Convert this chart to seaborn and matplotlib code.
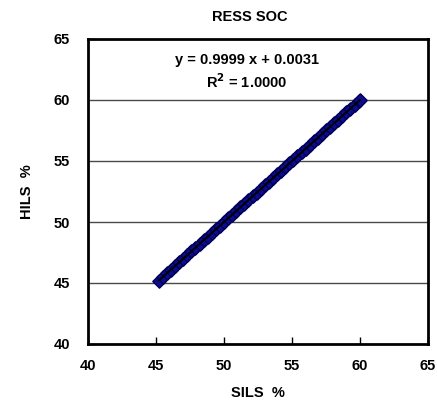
import numpy as np
import pandas as pd
import matplotlib
matplotlib.use("Agg")
import matplotlib.pyplot as plt
import seaborn as sns

sils = [45.2, 45.5, 45.8, 46.1, 46.4, 46.7, 47.0, 47.3, 47.6, 47.9,
        48.2, 48.5, 48.8, 49.1, 49.4, 49.7, 50.0, 50.3, 50.6, 50.9,
        51.2, 51.5, 51.8, 52.1, 52.4, 52.7, 53.0, 53.3, 53.6, 53.9,
        54.2, 54.5, 54.8, 55.1, 55.4, 55.7, 56.0, 56.3, 56.6, 56.9,
        57.2, 57.5, 57.8, 58.1, 58.4, 58.7, 59.0, 59.3, 59.6, 59.9, 60.0]
hils = [45.2, 45.5, 45.8, 46.1, 46.4, 46.7, 47.0, 47.3, 47.6, 47.9,
        48.2, 48.5, 48.8, 49.1, 49.4, 49.7, 50.0, 50.3, 50.6, 50.9,
        51.2, 51.5, 51.8, 52.1, 52.4, 52.7, 53.0, 53.3, 53.6, 53.9,
        54.2, 54.5, 54.8, 55.1, 55.4, 55.7, 56.0, 56.3, 56.6, 56.9,
        57.2, 57.5, 57.8, 58.1, 58.4, 58.7, 59.0, 59.3, 59.6, 59.9, 60.0]
ticks = [40, 45, 50, 55, 60, 65]
title = "RESS SOC"
eq_text = "y = 0.9999 x + 0.0031"
r2_text = "R$^{2}$ = 1.0000"

df = pd.DataFrame({"SILS": sils, "HILS": hils})

sns.set_style("white")
plt.rcParams["font.family"] = ["Liberation Sans", "DejaVu Sans"]
plt.rcParams["font.weight"] = "bold"
plt.rcParams["mathtext.default"] = "bf"
plt.rcParams["text.color"] = "black"
plt.rcParams["axes.labelcolor"] = "black"
plt.rcParams["xtick.color"] = "black"
plt.rcParams["ytick.color"] = "black"

fig = plt.figure(figsize=(4.37, 4.07), dpi=100)
ax = fig.add_axes([88/437, 1 - 344/407, (428-88)/437, (344-39)/407])

for yv in ticks[1:-1]:
    ax.axhline(yv, color="#4a4a4a", lw=1.0, zorder=1)

sns.scatterplot(data=df, x="SILS", y="HILS", ax=ax, marker="D", s=46,
                color="#0c0c90", edgecolor="#000055", linewidth=1.0, zorder=2, legend=False)
coef = np.polyfit(df["SILS"], df["HILS"], 1)
xs = np.array([min(sils), max(sils)])
ax.plot(xs, np.polyval(coef, xs), color="black", lw=1.5, zorder=3)

ax.set_xlim(40, 65)
ax.set_ylim(40, 65)
ax.set_xticks(ticks)
ax.set_yticks(ticks)
ax.set_xticklabels([str(t) for t in ticks], fontsize=10.5, fontweight="bold")
ax.set_yticklabels([str(t) for t in ticks], fontsize=10.5, fontweight="bold")
ax.tick_params(axis="x", direction="in", length=5, width=1, pad=11, bottom=True)
ax.tick_params(axis="y", length=0, pad=13, left=True)
for sp in ax.spines.values():
    sp.set_visible(True)
    sp.set_linewidth(2)
    sp.set_color("black")

ax.set_xlabel("SILS  %", fontsize=10.5, fontweight="bold", labelpad=9)
ax.set_ylabel("HILS  %", fontsize=10.5, fontweight="bold", labelpad=14)
fig.text(250/437, 1 - 17/407, title, ha="center", va="center", fontsize=10.5, fontweight="bold")
fig.text(247/437, 1 - 60/407, eq_text, ha="center", va="center", fontsize=10.5, fontweight="bold")
fig.text(247/437, 1 - 82/407, r2_text, ha="center", va="center", fontsize=10.5, fontweight="bold")

fig.savefig("out.png", dpi=100)
